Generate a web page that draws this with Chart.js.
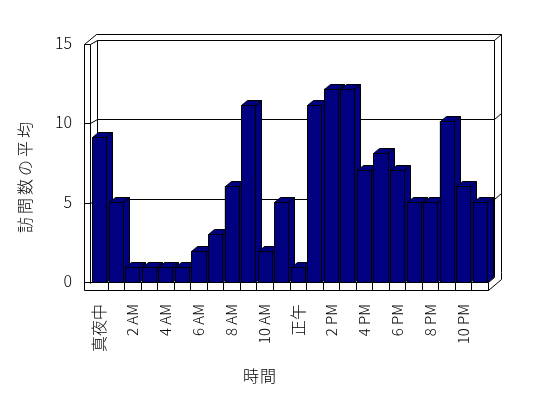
<!DOCTYPE html>
<html>
<head>
<meta charset="utf-8">
<script src="https://cdn.jsdelivr.net/npm/chart.js@4"></script>
<style>
  body { margin: 0; background: #fff; }
</style>
</head>
<body>
<canvas id="myChart" width="548" height="398"></canvas>
<script>
const hours = ['真夜中', '1 AM', '2 AM', '3 AM', '4 AM', '5 AM', '6 AM', '7 AM', '8 AM', '9 AM', '10 AM', '11 AM',
  '正午', '1 PM', '2 PM', '3 PM', '4 PM', '5 PM', '6 PM', '7 PM', '8 PM', '9 PM', '10 PM', '11 PM'];
const visits = [9, 5, 1, 1, 1, 1, 2, 3, 6, 11, 2, 5, 1, 11, 12, 12, 7, 8, 7, 5, 5, 10, 6, 5];
const yTicks = [0, 5, 10, 15];
const xTitle = '時間';
const yTitle = '訪問数の平均';

const font = "'Noto Sans CJK JP', sans-serif";
const navy = '#000080';

// the walls / floor of the excel-like 3d box, plus titles and value labels
const box3d = {
  id: 'box3d',
  beforeDatasetsDraw(chart) {
    const ctx = chart.ctx;
    const ys = chart.scales.y;
    const { left, right } = chart.chartArea;
    const bottom = ys.getPixelForValue(0);
    const ftop = ys.getPixelForValue(15) + 4;
    const fy = (v) => Math.round(bottom - 1 - (bottom - 1 - ftop) * v / 15);  // front axis
    const fl = left - 7;
    const top = fy(15) - 4;
    ctx.save();
    ctx.strokeStyle = '#000';
    ctx.lineWidth = 1;
    ctx.translate(0.5, 0.5);
    ctx.beginPath();
    // left wall
    ctx.moveTo(fl, fy(15)); ctx.lineTo(fl, bottom + 7);
    ctx.moveTo(left - 1, fy(15)); ctx.lineTo(left - 1, bottom);
    ctx.moveTo(left + 6, top); ctx.lineTo(left + 6, bottom - 4);
    ctx.moveTo(fl, fy(15)); ctx.lineTo(left + 5, top - 6);
    // top edges
    ctx.moveTo(left + 5, top - 6); ctx.lineTo(right + 13, top - 6);
    ctx.moveTo(right + 6, top); ctx.lineTo(right + 13, top - 6);
    // right wall
    ctx.moveTo(right + 6, top); ctx.lineTo(right + 6, bottom - 6);
    ctx.moveTo(right + 13, top - 6); ctx.lineTo(right + 13, bottom - 11);
    // gridlines (back wall)
    yTicks.forEach(v => {
      if (v === 0) return;
      const y = fy(v);
      ctx.moveTo(fl, y); ctx.lineTo(left - 1, y);
      ctx.lineTo(left + 6, y - 4); ctx.lineTo(right + 6, y - 4);
      if (v < 15) ctx.lineTo(right + 13, y - 10);
    });
    // floor
    ctx.moveTo(fl, bottom - 1); ctx.lineTo(right, bottom - 1);
    ctx.moveTo(fl, bottom + 7); ctx.lineTo(right, bottom + 7);
    ctx.moveTo(right, bottom - 1); ctx.lineTo(right, bottom + 7);
    ctx.moveTo(right, bottom + 7); ctx.lineTo(right + 13, bottom - 4);
    ctx.lineTo(right + 13, bottom - 11);
    ctx.moveTo(right, bottom - 1); ctx.lineTo(right + 6, bottom - 6);
    const w = (right - left) / hours.length;
    for (let i = 1; i < hours.length; i++) {
      const x = Math.round(left + i * w);
      ctx.moveTo(x, bottom - 1); ctx.lineTo(x, bottom + 7);
    }
    ctx.stroke();
    ctx.restore();

    // y value labels on the front axis
    ctx.save();
    ctx.fillStyle = '#000';
    ctx.font = '300 16px ' + font;
    ctx.textAlign = 'right';
    ctx.textBaseline = 'middle';
    yTicks.forEach(v => ctx.fillText(String(v), 72, fy(v) - 1));
    // axis titles
    ctx.textAlign = 'center';
    ctx.font = '300 16px ' + font;
    ctx.letterSpacing = '1px';
    ctx.fillText(xTitle, 260, 376);
    ctx.translate(25, 176);
    ctx.rotate(-Math.PI / 2);
    ctx.letterSpacing = '3px';
    ctx.fillText(yTitle, 0, 0);
    ctx.restore();
  },
  afterDatasetsDraw(chart) {
    const ctx = chart.ctx;
    const meta = chart.getDatasetMeta(0);
    ctx.save();
    ctx.strokeStyle = '#000';
    ctx.lineWidth = 1;
    ctx.fillStyle = navy;
    meta.data.forEach(bar => {
      const xl = Math.round(bar.x - bar.width / 2) + 0.5;
      const xr = Math.round(bar.x + bar.width / 2) + 0.5;
      const yt = Math.round(bar.y) + 0.5;
      const yb = Math.round(bar.base) - 0.5;
      // side
      ctx.beginPath();
      ctx.moveTo(xr, yt); ctx.lineTo(xr + 6, yt - 5);
      ctx.lineTo(xr + 6, yb - 5); ctx.lineTo(xr, yb); ctx.closePath();
      ctx.fill(); ctx.stroke();
      // top
      ctx.beginPath();
      ctx.moveTo(xl, yt); ctx.lineTo(xl + 6, yt - 5);
      ctx.lineTo(xr + 6, yt - 5); ctx.lineTo(xr, yt); ctx.closePath();
      ctx.fill(); ctx.stroke();
      // front
      ctx.fillRect(xl, yt, xr - xl, yb - yt);
      ctx.strokeRect(xl, yt, xr - xl, yb - yt);
    });
    ctx.restore();
  }
};

new Chart(document.getElementById('myChart'), {
  type: 'bar',
  data: {
    labels: hours,
    datasets: [{
      data: visits,
      backgroundColor: navy,
      borderColor: '#000',
      borderWidth: 1,
      barPercentage: 0.85,
      categoryPercentage: 1
    }]
  },
  options: {
    responsive: false,
    animation: false,
    devicePixelRatio: 1,
    layout: { padding: { top: 40, right: 60, left: 0, bottom: 0 } },
    plugins: {
      legend: { display: false },
      tooltip: { enabled: false }
    },
    scales: {
      x: {
        grid: { display: false, drawTicks: false },
        border: { display: false },
        ticks: {
          autoSkip: false,
          maxRotation: 90,
          minRotation: 90,
          padding: 21,
          color: '#000',
          font: (c) => {
            const lbl = hours[c.index] || '';
            return /[A-Z0-9]/.test(lbl)
              ? { family: font, size: 15, weight: 300 }
              : { family: font, size: 16, weight: 300 };
          },
          callback: (v, i) => i % 2 === 0 ? hours[i] : ''
        },
        afterFit: (s) => { s.height = 115; }
      },
      y: {
        min: 0,
        max: 15,
        grid: { display: false, drawTicks: false },
        border: { display: false },
        ticks: { display: false, stepSize: 5 },
        afterFit: (s) => { s.width = 91; }
      }
    }
  },
  plugins: [box3d]
});
</script>
</body>
</html>
